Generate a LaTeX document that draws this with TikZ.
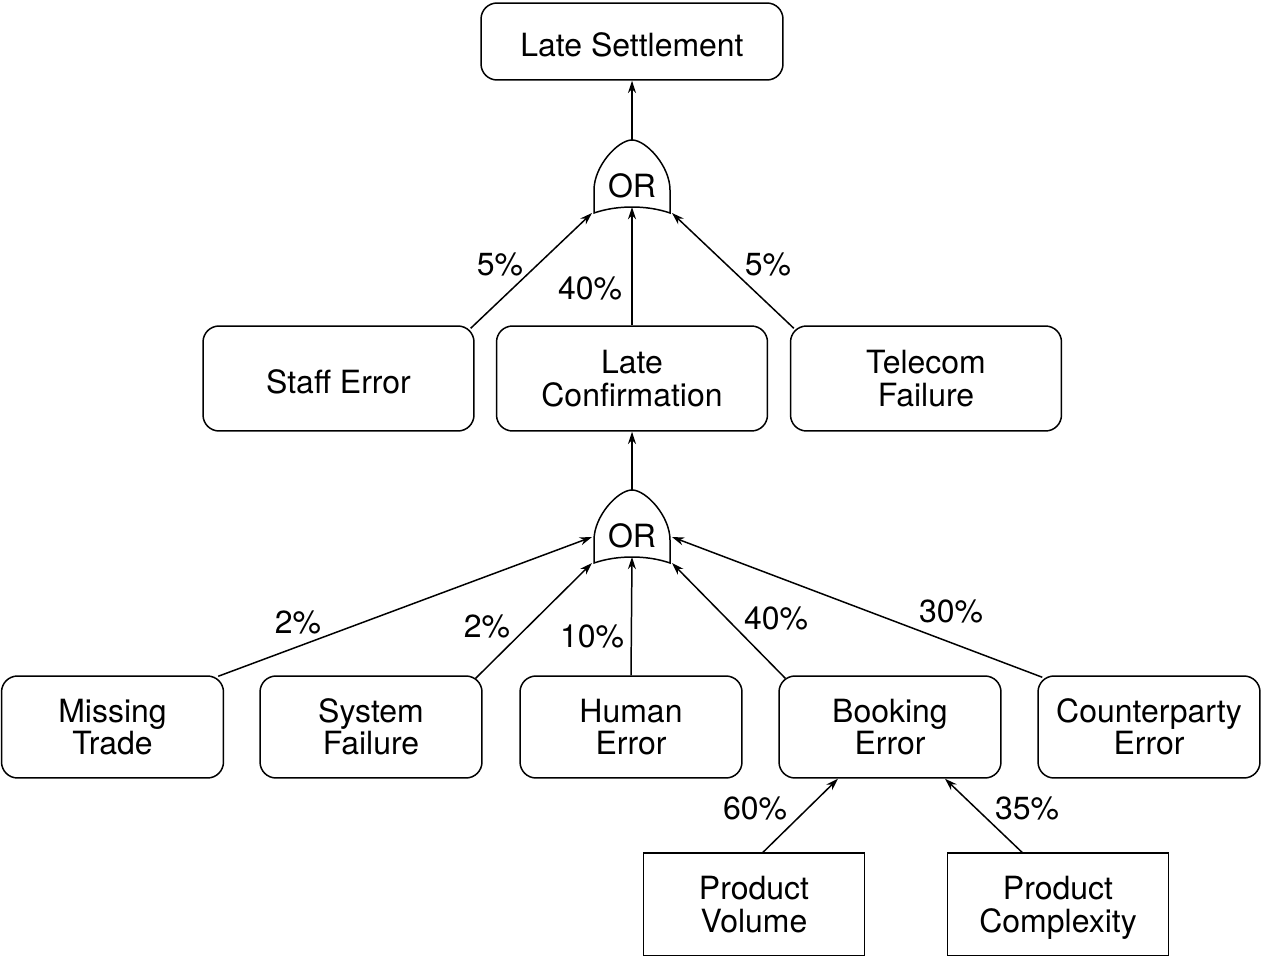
\documentclass[tikz,border=0pt]{standalone}
\usepackage{fontspec}
\setmainfont{TeX Gyre Heros}
\usetikzlibrary{arrows.meta,calc}

% outline of an OR gate round the node #1
\newcommand\orgate[1]{%
  \draw ($(#1)+(-38,27)$) -- ($(#1)+(-38,4)$)
    .. controls ($(#1)+(-38,-20)$) and ($(#1)+(-14,-46)$) .. ($(#1)+(0,-46)$)
    .. controls ($(#1)+(14,-46)$) and ($(#1)+(38,-20)$) .. ($(#1)+(38,4)$)
    -- ($(#1)+(38,27)$)
    .. controls ($(#1)+(15,19)$) and ($(#1)+(-15,19)$) .. cycle;}
% taller first line, to set two-line labels a little lower
\newcommand\tl{\rule{0pt}{17.6pt}}

\begin{document}
\begin{tikzpicture}[x=0.02cm, y=-0.02cm, line width=0.85pt,
    font=\fontsize{18.2}{18.4}\selectfont,
    event/.style={draw, rounded corners=0.32cm, align=center, inner sep=2pt,
      execute at begin node=\rule{0pt}{21.5pt},
      execute at end node=\rule[-4.5pt]{0pt}{4.5pt}},
    cause/.style={draw, align=center, inner sep=2pt,
      execute at end node=\rule[-4.5pt]{0pt}{4.5pt}},
    gatetext/.style={inner sep=0pt},
    pct/.style={inner sep=0pt},
    arr/.style={-{Stealth[length=7pt,width=4.6pt]}}]
  \useasboundingbox (0,0) rectangle (1261,956);

  % top event
  \node[event, minimum width=6.04cm, minimum height=1.54cm] (ls) at (632,41.5) {Late Settlement};
  \node[gatetext] (or1) at (632,186) {OR};
  \orgate{or1}

  % middle row
  \node[event, minimum width=5.42cm, minimum height=2.1cm] (se) at (338.5,378.5) {Staff Error};
  \node[event, minimum width=5.42cm, minimum height=2.1cm] (lc) at (632,378.5) {\tl Late\\Confirmation};
  \node[event, minimum width=5.42cm, minimum height=2.1cm] (tf) at (926,378.5) {\tl Telecom\\Failure};
  \node[gatetext] (or2) at (632,536) {OR};
  \orgate{or2}

  % bottom row
  \node[event, minimum width=4.44cm, minimum height=2.04cm] (mt) at (112.5,727) {\tl Missing\\Trade};
  \node[event, minimum width=4.44cm, minimum height=2.04cm] (sf) at (371,727) {\tl System\\Failure};
  \node[event, minimum width=4.44cm, minimum height=2.04cm] (he) at (631,727) {\tl Human\\Error};
  \node[event, minimum width=4.44cm, minimum height=2.04cm] (be) at (890,727) {\tl Booking\\Error};
  \node[event, minimum width=4.44cm, minimum height=2.04cm] (ce) at (1149,727) {\tl Counterparty\\Error};

  % root causes
  \node[cause, minimum width=4.42cm, minimum height=2.06cm] (pv) at (754,904.5) {\tl Product\\Volume};
  \node[cause, minimum width=4.42cm, minimum height=2.06cm] (pc) at (1058,904.5) {\tl Product\\Complexity};

  % connectors
  \draw[arr] ($(or1)+(0,-46)$) -- (ls.south);
  \draw[arr] ($(se.north east)+(-4,3)$) -- ($(or1)+(-40,27)$);
  \draw[arr] (lc.north) -- ($(or1)+(0,21)$);
  \draw[arr] ($(tf.north west)+(4,3)$) -- ($(or1)+(40,27)$);
  \draw[arr] ($(or2)+(0,-46)$) -- (lc.south);
  \draw[arr] ($(mt.north east)+(-6,1)$) -- ($(or2)+(-40,1)$);
  \draw[arr] ($(sf.north east)+(-7,3)$) -- ($(or2)+(-40,27)$);
  \draw[arr] (he.north) -- ($(or2)+(0,21)$);
  \draw[arr] ($(be.north west)+(7,3)$) -- ($(or2)+(40,27)$);
  \draw[arr] ($(ce.north west)+(5,2)$) -- ($(or2)+(40,1)$);
  \draw[arr] ($(pv.north)+(9,0)$) -- ($(be.south)+(-52,0)$);
  \draw[arr] ($(pc.north)+(-36,0)$) -- ($(be.south)+(55,0)$);

  % percentages
  \node[pct] (p1) at (500,264) {5\%};
  \node[pct] (p2) at (590,288) {40\%};
  \node[pct] (p3) at (768,264) {5\%};
  \node[pct] (p4) at (298,622) {2\%};
  \node[pct] (p5) at (487,626) {2\%};
  \node[pct] (p6) at (592,636) {10\%};
  \node[pct] (p7) at (776,618) {40\%};
  \node[pct] (p8) at (951,611) {30\%};
  \node[pct] (p9) at (755,808) {60\%};
  \node[pct] (p10) at (1027,808) {35\%};
\end{tikzpicture}
\end{document}
